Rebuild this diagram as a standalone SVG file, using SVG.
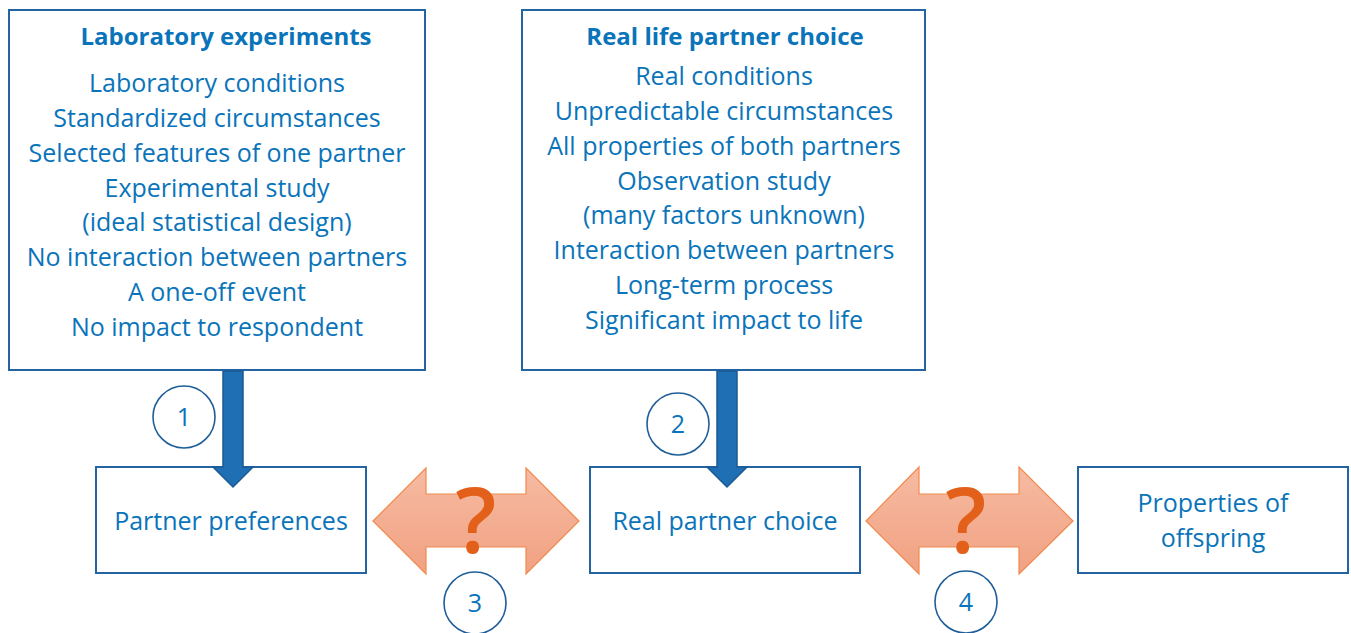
<svg xmlns="http://www.w3.org/2000/svg" width="1351" height="633" viewBox="0 0 1351 633">
<defs>
<linearGradient id="og" x1="0" y1="0" x2="0" y2="1">
<stop offset="0" stop-color="#F6BBA2"/>
<stop offset="1" stop-color="#F1A182"/>
</linearGradient>
<style>
.box{fill:#fff;stroke:#2464A2;stroke-width:2}
.t{font-family:"Open Sans","Liberation Sans",sans-serif;font-size:25px;fill:#0A74BA;text-anchor:middle}
.b{font-weight:bold;font-size:24px}
.circ{fill:#fff;stroke:#1F5E99;stroke-width:1.6}
.dn{fill:#1F6FB4;stroke:#1B5A94;stroke-width:1.5}
.dbl{fill:url(#og);stroke:#F08A4E;stroke-width:1.2}
.q{font-family:"Open Sans","Liberation Sans",sans-serif;font-size:90px;font-weight:600;fill:#E2601A;text-anchor:middle}
</style>
</defs>
<g id="lab">
<rect class="box" x="9" y="10" width="416" height="360"/>
<text class="t b" x="226" y="45">Laboratory experiments</text>
<text class="t" x="217" y="92">Laboratory conditions</text>
<text class="t" x="217" y="127">Standardized circumstances</text>
<text class="t" x="217" y="162">Selected features of one partner</text>
<text class="t" x="217" y="197">Experimental study</text>
<text class="t" x="217" y="231">(ideal statistical design)</text>
<text class="t" x="217" y="266">No interaction between partners</text>
<text class="t" x="217" y="301">A one-off event</text>
<text class="t" x="217" y="336">No impact to respondent</text>
</g>
<g id="real">
<rect class="box" x="522" y="10" width="403" height="360"/>
<text class="t b" x="725" y="45">Real life partner choice</text>
<text class="t" x="724" y="85">Real conditions</text>
<text class="t" x="724" y="120">Unpredictable circumstances</text>
<text class="t" x="724" y="155">All properties of both partners</text>
<text class="t" x="724" y="190">Observation study</text>
<text class="t" x="724" y="224">(many factors unknown)</text>
<text class="t" x="724" y="259">Interaction between partners</text>
<text class="t" x="724" y="294">Long-term process</text>
<text class="t" x="724" y="329">Significant impact to life</text>
</g>
<g id="pref">
<rect class="box" x="96" y="467" width="270" height="106"/>
<text class="t" x="231" y="530">Partner preferences</text>
</g>
<g id="choice">
<rect class="box" x="590" y="467" width="270" height="106"/>
<text class="t" x="725" y="530">Real partner choice</text>
</g>
<g id="offspring">
<rect class="box" x="1078" y="467" width="270" height="106"/>
<text class="t" x="1213" y="512">Properties of</text>
<text class="t" x="1213" y="547">offspring</text>
</g>
<g id="connectors">
<path class="dn" d="M223,371 H243 V467 H253 L233,487 L213,467 H223 Z"/>
<path class="dn" d="M717,371 H737 V467 H747 L727,487 L707,467 H717 Z"/>
<path class="dbl" d="M373,521 L426,468 V494 H526 V468 L579,521 L526,574 V547 H426 V574 Z"/>
<text class="q" x="476" y="553">?</text>
<path class="dbl" d="M866,521 L919,467 V494 H1019 V467 L1073,521 L1019,574 V547 H919 V574 Z"/>
<text class="q" x="966" y="553">?</text>
</g>
<g id="c1"><circle class="circ" cx="184" cy="417" r="31"/><text class="t" x="184" y="426">1</text></g>
<g id="c2"><circle class="circ" cx="678" cy="424" r="31"/><text class="t" x="678" y="433">2</text></g>
<g id="c3"><circle class="circ" cx="475" cy="603" r="31"/><text class="t" x="475" y="612">3</text></g>
<g id="c4"><circle class="circ" cx="966" cy="602" r="31"/><text class="t" x="966" y="611">4</text></g>
</svg>
